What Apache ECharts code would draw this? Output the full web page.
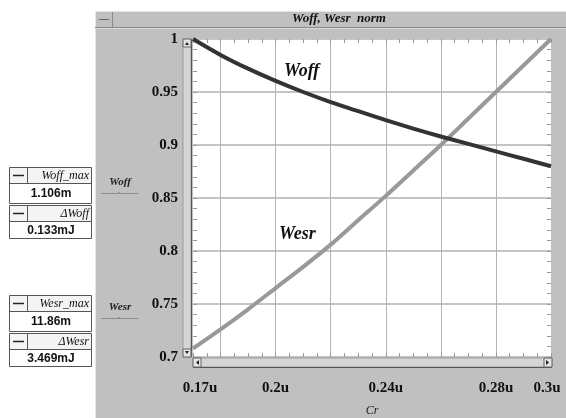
<!DOCTYPE html>
<html>
<head>
<meta charset="utf-8">
<script src="https://cdn.jsdelivr.net/npm/echarts@6/dist/echarts.min.js"></script>
<style>
  html, body { margin: 0; padding: 0; background: #fff; }
  #chart { width: 566px; height: 418px; }
</style>
</head>
<body>
<div id="chart"></div>
<script>
  // Cr (u) sample points and the two normalized curves
  const crValues = [0.17, 0.18, 0.19, 0.20, 0.21, 0.22, 0.23, 0.24, 0.25, 0.26, 0.27, 0.28, 0.29, 0.30]
  const woffNorm = [1.000, 0.985, 0.972, 0.9605, 0.950, 0.9405, 0.932, 0.9235, 0.9155, 0.908, 0.901, 0.894, 0.887, 0.880]
  const wesrNorm = [0.708, 0.726, 0.745, 0.765, 0.785, 0.806, 0.829, 0.852, 0.876, 0.900, 0.925, 0.950, 0.975, 1.000]

  // axis labels / grid lines
  const xLabelValues = [0.17, 0.2, 0.24, 0.28, 0.3]
  const xGridValues = [0.18, 0.2, 0.22, 0.24, 0.26, 0.28]

  // measurement boxes on the left
  const boxNames = ['Woff_max', 'ΔWoff', 'Wesr_max', 'ΔWesr']
  const boxValues = ['1.106m', '0.133mJ', '11.86m', '3.469mJ']

  const serif = '"Liberation Serif", "DejaVu Serif", serif'
  const sans = '"Liberation Sans", Arial, sans-serif'
  const panelGray = '#c0c0c0'

  const myChart = echarts.init(document.getElementById('chart'))

  // ---- decoration: panel, title bar, scrollbars, legend, boxes
  const graphics = [
    { type: 'rect', z: -10, shape: { x: 95, y: 11, width: 471, height: 407 }, style: { fill: panelGray } },
    { type: 'line', z: -9, shape: { x1: 95.5, y1: 11, x2: 95.5, y2: 418 }, style: { stroke: '#e6e6e6', lineWidth: 1 } },
    { type: 'line', z: -9, shape: { x1: 95, y1: 11.5, x2: 566, y2: 11.5 }, style: { stroke: '#e6e6e6', lineWidth: 1 } },
    { type: 'line', z: -9, shape: { x1: 95, y1: 27.5, x2: 566, y2: 27.5 }, style: { stroke: '#8a8a8a', lineWidth: 1 } },
    { type: 'line', z: -9, shape: { x1: 95, y1: 28.5, x2: 566, y2: 28.5 }, style: { stroke: '#dcdcdc', lineWidth: 1 } },
    { type: 'line', z: -9, shape: { x1: 112.5, y1: 12, x2: 112.5, y2: 27 }, style: { stroke: '#8a8a8a', lineWidth: 1 } },
    { type: 'line', z: -9, shape: { x1: 99, y1: 19.5, x2: 109, y2: 19.5 }, style: { stroke: '#666', lineWidth: 1 } },
    {
      type: 'text', z: 5, x: 339, y: 19,
      style: { text: 'Woff, Wesr  norm', font: 'italic bold 13px ' + serif, fill: '#111', align: 'center', verticalAlign: 'middle' }
    },
    // vertical scrollbar
    { type: 'rect', z: 5, shape: { x: 183, y: 39, width: 8, height: 318 }, style: { fill: '#d6d6d6', stroke: '#9a9a9a', lineWidth: 1 } },
    { type: 'line', z: 6, shape: { x1: 191.5, y1: 39, x2: 191.5, y2: 357 }, style: { stroke: '#555', lineWidth: 1 } },
    { type: 'rect', z: 6, shape: { x: 183, y: 39, width: 8, height: 8 }, style: { fill: '#e4e4e4', stroke: '#666', lineWidth: 1 } },
    { type: 'rect', z: 6, shape: { x: 183, y: 349, width: 8, height: 8 }, style: { fill: '#e4e4e4', stroke: '#666', lineWidth: 1 } },
    { type: 'polygon', z: 7, shape: { points: [[185, 45], [189, 45], [187, 42]] }, style: { fill: '#222' } },
    { type: 'polygon', z: 7, shape: { points: [[185, 351], [189, 351], [187, 354]] }, style: { fill: '#222' } },
    // horizontal scrollbar
    { type: 'rect', z: 5, shape: { x: 193, y: 358, width: 359, height: 9 }, style: { fill: '#d6d6d6', stroke: '#9a9a9a', lineWidth: 1 } },
    { type: 'line', z: 6, shape: { x1: 193, y1: 367.5, x2: 552, y2: 367.5 }, style: { stroke: '#555', lineWidth: 1 } },
    { type: 'rect', z: 6, shape: { x: 193, y: 358, width: 8, height: 9 }, style: { fill: '#e4e4e4', stroke: '#666', lineWidth: 1 } },
    { type: 'rect', z: 6, shape: { x: 544, y: 358, width: 8, height: 9 }, style: { fill: '#e4e4e4', stroke: '#666', lineWidth: 1 } },
    { type: 'polygon', z: 7, shape: { points: [[199, 360], [199, 365], [196, 362.5]] }, style: { fill: '#222' } },
    { type: 'polygon', z: 7, shape: { points: [[546, 360], [546, 365], [549, 362.5]] }, style: { fill: '#222' } },
    // axis title
    {
      type: 'text', z: 5, x: 372, y: 411,
      style: { text: 'Cr', font: 'italic 12px ' + serif, fill: '#222', align: 'center', verticalAlign: 'middle' }
    },
    // curve labels
    {
      type: 'text', z: 5, x: 284, y: 71,
      style: { text: 'Woff', font: 'italic bold 18px ' + serif, fill: '#111', align: 'left', verticalAlign: 'middle' }
    },
    {
      type: 'text', z: 5, x: 279, y: 234,
      style: { text: 'Wesr', font: 'italic bold 18px ' + serif, fill: '#111', align: 'left', verticalAlign: 'middle' }
    }
  ]

  // small legend entries in the gray strip
  const legendRows = [{ name: 'Woff', y: 182 }, { name: 'Wesr', y: 307 }]
  legendRows.forEach(function (r) {
    graphics.push({
      type: 'text', z: 5, x: 120, y: r.y,
      style: { text: r.name, font: 'italic bold 11px ' + serif, fill: '#222', align: 'center', verticalAlign: 'middle' }
    })
    graphics.push({ type: 'line', z: 5, shape: { x1: 101, y1: r.y + 11.5, x2: 138, y2: r.y + 11.5 }, style: { stroke: '#8c8c8c', lineWidth: 1 } })
    graphics.push({ type: 'polygon', z: 5, shape: { points: [[117, r.y + 12], [121, r.y + 12], [119, r.y + 9.5]] }, style: { fill: '#8c8c8c' } })
  })

  // measurement boxes
  const boxTops = [167, 205, 295, 333]
  for (let i = 0; i < boxNames.length; i++) {
    const top = boxTops[i]
    const hH = 16
    const vH = i % 2 === 0 ? 20 : 17
    graphics.push({ type: 'rect', z: 5, shape: { x: 9.5, y: top + 0.5, width: 82, height: hH }, style: { fill: '#f4f4f4', stroke: '#555', lineWidth: 1 } })
    graphics.push({ type: 'rect', z: 5, shape: { x: 9.5, y: top + hH + 0.5, width: 82, height: vH }, style: { fill: '#fff', stroke: '#555', lineWidth: 1 } })
    graphics.push({ type: 'line', z: 6, shape: { x1: 27.5, y1: top, x2: 27.5, y2: top + hH }, style: { stroke: '#555', lineWidth: 1 } })
    graphics.push({ type: 'line', z: 6, shape: { x1: 13, y1: top + 8.5, x2: 24, y2: top + 8.5 }, style: { stroke: '#222', lineWidth: 1.5 } })
    graphics.push({
      type: 'text', z: 6, x: 89, y: top + 8.5,
      style: { text: boxNames[i], font: 'italic 12px ' + serif, fill: '#111', align: 'right', verticalAlign: 'middle' }
    })
    graphics.push({
      type: 'text', z: 6, x: 51, y: top + hH + vH / 2 + 1,
      style: { text: boxValues[i], font: 'bold 12px ' + sans, fill: '#111', align: 'center', verticalAlign: 'middle' }
    })
  }

  const tickStyle = { color: '#9a9a9a', width: 1 }

  var option = {
    backgroundColor: '#fff',
    animation: false,
    graphic: graphics,
    grid: {
      left: 193,
      right: 15,
      top: 39,
      bottom: 61,
      show: true,
      backgroundColor: '#fff',
      borderWidth: 0,
      outerBoundsMode: 'none'
    },
    xAxis: [
      {
        // data axis, bottom labels + minor ticks
        type: 'value',
        position: 'bottom',
        min: 0.17,
        max: 0.3,
        interval: 0.005,
        axisLine: { show: false },
        axisTick: { show: true, inside: true, length: 4, lineStyle: tickStyle },
        splitLine: { show: false },
        axisLabel: {
          customValues: xLabelValues,
          margin: 24,
          color: '#111',
          fontFamily: serif,
          fontWeight: 'bold',
          fontSize: 15,
          formatter: function (v) {
            if (Math.abs(v - 0.17) < 1e-9) return '{l|' + v + 'u}'
            if (Math.abs(v - 0.3) < 1e-9) return '{r|' + v + 'u}'
            return v + 'u'
          },
          rich: {
            l: { padding: [0, 0, 0, 14], fontFamily: serif, fontWeight: 'bold', fontSize: 15, color: '#111' },
            r: { padding: [0, 8, 0, 0], fontFamily: serif, fontWeight: 'bold', fontSize: 15, color: '#111' }
          }
        }
      },
      {
        // top minor ticks
        type: 'value',
        position: 'top',
        min: 0.17,
        max: 0.3,
        interval: 0.005,
        axisLine: { show: false },
        axisTick: { show: true, inside: true, length: 4, lineStyle: tickStyle },
        axisLabel: { show: false },
        splitLine: { show: false }
      },
      {
        // vertical grid lines
        type: 'value',
        position: 'bottom',
        min: 0.17,
        max: 0.3,
        axisLine: { show: false },
        axisTick: { show: false, customValues: xGridValues },
        axisLabel: { show: false },
        splitLine: { show: true, lineStyle: { color: '#b4b4b4', width: 1 } }
      }
    ],
    yAxis: [
      {
        type: 'value',
        position: 'left',
        min: 0.7,
        max: 1,
        interval: 0.05,
        axisLine: { show: false },
        axisTick: { show: true, inside: true, length: 4, lineStyle: tickStyle },
        minorTick: { show: true, splitNumber: 5, length: 4, lineStyle: tickStyle },
        splitLine: { show: true, lineStyle: { color: '#c4c4c4', width: 2 } },
        axisLabel: {
          margin: 15,
          color: '#111',
          fontFamily: serif,
          fontWeight: 'bold',
          fontSize: 15
        }
      },
      {
        type: 'value',
        position: 'right',
        min: 0.7,
        max: 1,
        interval: 0.05,
        axisLine: { show: false },
        axisTick: { show: true, inside: true, length: 4, lineStyle: tickStyle },
        minorTick: { show: true, splitNumber: 5, length: 4, lineStyle: tickStyle },
        splitLine: { show: false },
        axisLabel: { show: false }
      }
    ],
    series: [
      {
        name: 'Woff',
        type: 'line',
        xAxisIndex: 0,
        yAxisIndex: 0,
        smooth: 0.3,
        symbol: 'none',
        z: 4,
        lineStyle: { color: '#333', width: 4 },
        data: crValues.map(function (c, i) { return [c, woffNorm[i]] })
      },
      {
        name: 'Wesr',
        type: 'line',
        xAxisIndex: 0,
        yAxisIndex: 0,
        smooth: 0.3,
        symbol: 'none',
        z: 3,
        lineStyle: { color: '#999', width: 4 },
        data: crValues.map(function (c, i) { return [c, wesrNorm[i]] })
      }
    ]
  }
  myChart.setOption(option)
</script>
</body>
</html>
